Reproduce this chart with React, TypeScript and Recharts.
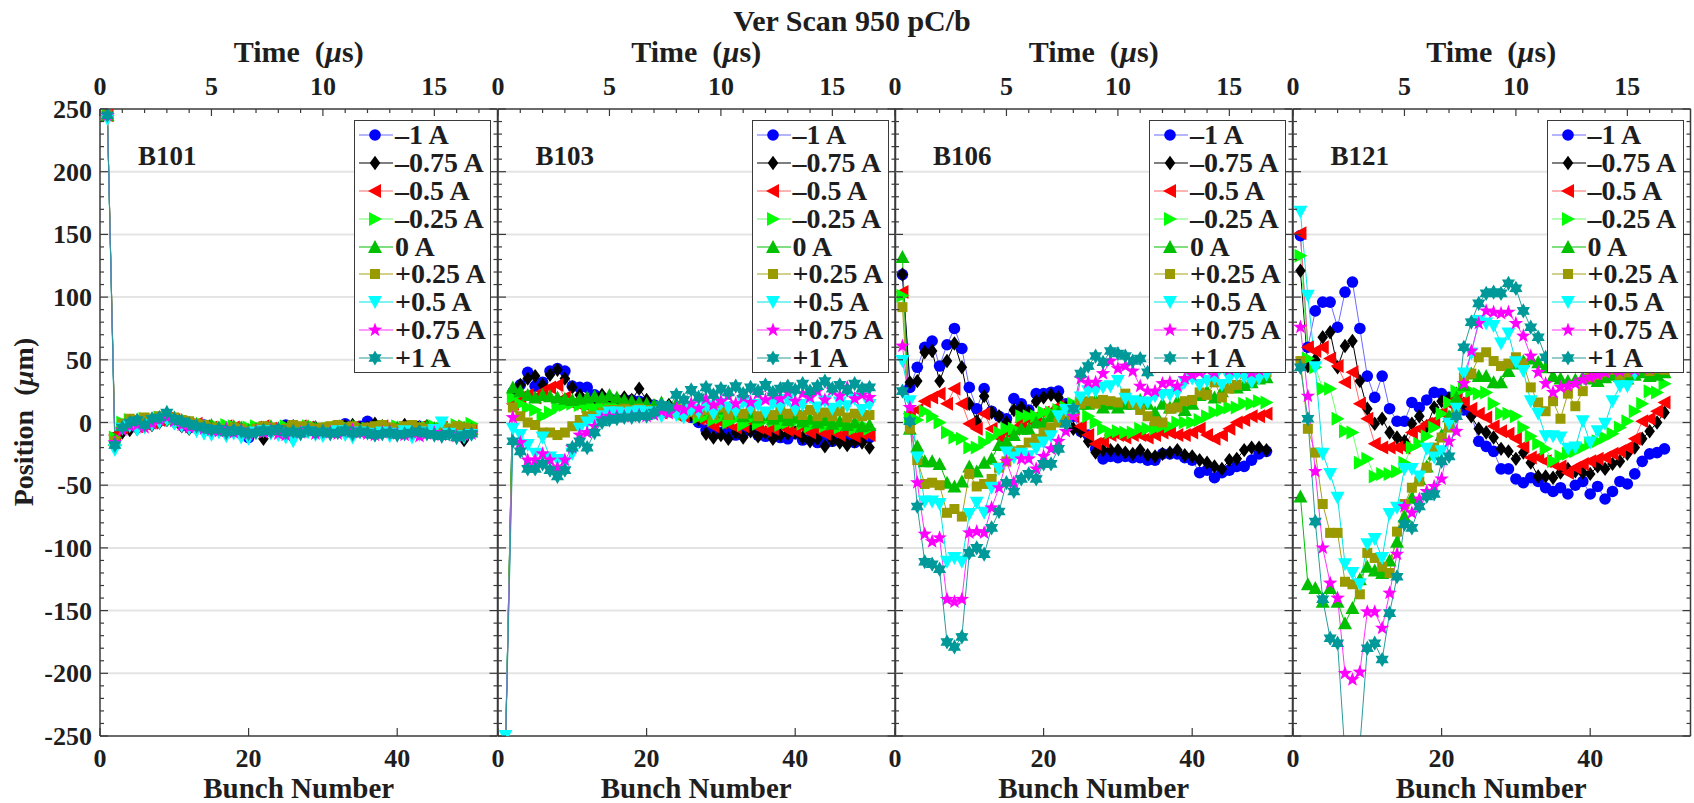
import React from 'react';
import {
  LineChart,
  Line,
  XAxis,
  YAxis,
  CartesianGrid,
  ReferenceLine,
} from 'recharts';

// bunch numbers along the train
const BUNCH = [
  1, 2, 3, 4, 5, 6, 7, 8, 9, 10, 11, 12, 13, 14, 15, 16, 17, 18, 19, 20,
  21, 22, 23, 24, 25, 26, 27, 28, 29, 30, 31, 32, 33, 34, 35, 36, 37, 38, 39, 40,
  41, 42, 43, 44, 45, 46, 47, 48, 49, 50,
];

// B101
const B101_M100 = [245,-12,-2,-1,0,-2,1,2,3,1,-2,-4,-3,-2,-5,-6,-4,-7,-5,-12,-6,-5,-7,-6,-2,-4,-6,-5,-7,-6,-5,-4,-1,-6,-3,1,-5,-6,-5,-7,-4,-5,-3,-3,-5,-7,-6,-8,-7,-6];
const B101_M075 = [245,-14,-8,-6,-5,-3,-2,0,2,0,-3,-5,-4,-6,-7,-5,-8,-6,-9,-10,-7,-13,-5,-7,-4,-3,-6,-5,-4,-6,-7,-5,-3,-2,-5,-4,-1,-3,-6,-5,-2,-6,-4,-3,-5,-6,-8,-5,-14,-9];
const B101_M050 = [245,-10,-4,-2,-3,-1,0,2,3,2,0,-2,-1,-3,-4,-5,-3,-4,-6,-5,-4,-3,-5,-6,-4,-5,-3,-4,-6,-5,-4,-3,-5,-4,-6,-5,-4,-3,-5,-7,-6,-5,-4,-6,-5,-4,-7,-6,-5,-6];
const B101_M025 = [245,-12,0,2,1,3,2,4,5,3,1,0,-1,-2,-3,-4,-2,-3,-5,-4,-3,-5,-4,-6,-3,-4,-5,-3,-4,-6,-5,-4,-3,-5,-4,-5,-6,-4,-5,-3,-4,-6,-5,-4,-3,-5,-4,-2,-3,-1];
const B101_Z0 = [245,-14,-2,1,0,2,3,4,6,4,2,0,-1,-3,-2,-4,-5,-3,-4,-6,-5,-4,-3,-5,-6,-4,-5,-3,-4,-5,-6,-4,-5,-3,-6,-5,-4,-3,-5,-4,-5,-6,-4,-3,-5,-4,-6,-5,-4,-5];
const B101_P025 = [245,-15,-1,3,2,4,3,5,5,4,2,1,-1,-2,-4,-5,-6,-4,-5,-7,-5,-3,-4,-6,-5,-2,-3,-4,-5,-4,-3,-2,-4,-3,-5,-4,-3,-2,-4,-5,-3,-2,-4,-5,-6,-4,-5,-3,-4,-5];
const B101_P050 = [242,-22,-5,-3,-6,-4,-2,0,2,-1,-3,-5,-7,-9,-10,-8,-11,-9,-12,-13,-8,-7,-9,-10,-12,-15,-9,-8,-10,-11,-9,-7,-10,-12,-8,-9,-10,-8,-11,-9,-7,-12,-10,-8,-6,0,-9,-11,-12,-10];
const B101_P075 = [245,-16,-6,-3,-2,-4,-1,2,4,1,-2,-4,-3,-5,-6,-7,-5,-8,-6,-9,-7,-8,-6,-9,-10,-7,-8,-6,-9,-7,-8,-9,-7,-6,-8,-9,-10,-8,-7,-9,-10,-8,-11,-9,-8,-10,-9,-11,-10,-9];
const B101_P100 = [245,-18,-4,0,2,-2,3,4,8,3,1,-1,-3,-4,-6,-5,-8,-6,-7,-9,-8,-6,-7,-5,-8,-7,-9,-6,-8,-7,-9,-8,-6,-9,-7,-8,-10,-9,-8,-10,-9,-8,-7,-9,-10,-11,-9,-12,-10,-9];

// B103
const B103_M100 = [-262,24,30,40,29,32,41,43,41,29,28,28,22,20,19,18,17,18,17,15,14,13,12,11,8,4,0,-6,-4,-8,-7,-10,-9,-6,-10,-11,-8,-12,-13,-9,-14,-13,-16,-12,-15,-13,-14,-16,-13,-12];
const B103_M075 = [-262,25,30,35,37,30,38,42,35,28,22,18,20,22,20,18,20,18,27,18,12,10,14,11,9,6,3,-9,-12,-10,-13,-8,-12,-7,-11,-8,-13,-10,-9,-8,-12,-15,-13,-19,-14,-16,-18,-15,-16,-20];
const B103_M050 = [-262,15,20,22,20,25,28,30,20,15,14,13,12,12,11,11,10,10,10,9,9,8,10,6,5,7,3,2,-3,0,-1,-4,-3,1,-4,-6,-5,-2,-6,-7,-4,-8,-6,-9,-7,-10,-8,-11,-9,-10];
const B103_M025 = [-262,20,15,12,10,5,8,12,14,15,14,13,12,12,13,12,11,12,12,11,10,12,9,10,7,8,4,5,2,4,0,3,-2,3,-1,2,1,-2,0,1,-1,-3,0,-3,-1,-4,-2,-5,-3,-5];
const B103_Z0 = [-262,28,25,22,20,22,21,20,19,18,19,20,21,20,22,20,18,17,16,15,14,16,13,15,12,14,10,12,8,11,7,9,5,8,4,6,3,5,2,4,1,3,0,2,-1,1,-2,0,-3,-2];
const B103_P025 = [-262,12,5,0,-2,-8,-8,-10,-8,-3,2,5,5,8,10,10,11,10,11,10,9,10,8,11,7,9,8,10,6,12,6,9,7,11,5,8,6,10,7,9,6,10,5,8,5,9,4,7,5,6];
const B103_P050 = [-250,-5,-10,-18,-25,-12,-28,-30,-32,-25,-5,0,2,5,8,8,7,8,9,8,8,5,9,6,4,10,8,13,7,15,12,9,16,11,14,8,15,12,18,10,14,20,12,17,11,16,13,19,10,14];
const B103_P075 = [-262,4,-16,-30,-30,-25,-30,-36,-30,-20,-10,-8,-3,3,5,5,5,5,6,5,6,9,7,12,10,15,11,19,14,17,21,15,20,16,23,18,22,19,24,17,23,20,25,18,26,21,28,19,22,20];
const B103_P100 = [-262,-15,-23,-37,-37,-33,-38,-43,-38,-20,-15,-20,-8,0,2,3,4,4,5,5,8,14,12,22,18,26,20,28,22,27,24,29,23,28,25,30,24,27,29,26,31,25,29,33,27,30,26,31,27,28];

// B106
const B106_M100 = [118,28,44,60,65,45,62,75,59,28,11,27,9,5,3,19,15,10,23,23,24,25,15,5,-7,-10,-21,-29,-27,-28,-27,-28,-28,-30,-30,-25,-25,-25,-28,-30,-40,-38,-44,-40,-38,-35,-35,-30,-25,-23];
const B106_M075 = [118,32,33,56,57,33,49,63,44,15,1,21,8,5,0,10,12,8,17,20,22,20,12,-5,-7,-15,-24,-22,-22,-22,-24,-25,-22,-26,-27,-25,-24,-22,-26,-27,-30,-32,-35,-37,-30,-29,-22,-20,-20,-22];
const B106_M050 = [104,7,10,17,20,23,15,27,15,-1,-5,7,-5,-12,-8,-5,0,2,5,8,9,13,10,5,-3,-10,-17,-15,-10,-10,-12,-10,-10,-12,-10,-8,-8,-10,-10,-8,-5,-10,-13,-10,-5,0,2,5,5,7];
const B106_M025 = [101,4,2,9,5,0,-8,-12,-13,-20,-20,-16,-12,-8,-5,-5,5,5,5,8,8,10,12,15,15,5,0,-5,-8,-7,-8,-8,-5,-5,-5,-3,-3,0,0,0,2,5,8,10,12,12,15,15,17,16];
const B106_Z0 = [132,-5,-19,-31,-31,-33,-48,-51,-47,-35,-39,-32,-29,-18,-15,-10,-5,-5,0,0,5,8,10,12,15,15,18,12,15,12,15,15,18,15,8,15,12,17,10,15,22,25,20,25,29,28,30,32,35,36];
const B106_P025 = [92,-5,-30,-49,-48,-50,-72,-69,-75,-41,-51,-49,-45,-36,-31,-23,-22,-16,-13,-8,-4,0,5,8,15,17,15,18,17,16,23,15,10,5,1,0,11,12,17,18,24,22,32,20,27,30,40,35,38,40];
const B106_P050 = [49,17,-28,-63,-63,-65,-111,-108,-111,-73,-64,-72,-52,-37,-24,-28,-25,-27,-21,-16,-11,5,10,8,20,25,25,28,29,33,19,17,16,16,21,22,22,24,32,35,30,33,35,30,35,38,36,32,35,38];
const B106_P075 = [61,12,-48,-89,-95,-92,-141,-143,-141,-88,-87,-88,-68,-52,-31,-48,-29,-29,-37,-27,-21,-15,-7,5,35,32,32,39,49,43,45,41,29,25,25,31,32,29,35,38,40,42,40,44,42,45,43,40,42,44];
const B106_P100 = [25,1,-67,-111,-113,-117,-175,-179,-171,-104,-100,-105,-84,-71,-48,-55,-45,-41,-45,-33,-33,-21,-1,11,39,45,53,48,57,55,53,49,51,40,45,48,50,47,52,50,48,52,50,53,50,48,52,50,49,51];

// B121
const B121_M100 = [149,60,89,96,96,76,104,112,75,37,20,37,11,1,1,16,12,18,24,23,20,15,10,7,-15,-19,-23,-37,-37,-45,-48,-44,-47,-52,-55,-52,-57,-50,-47,-57,-51,-61,-55,-47,-49,-41,-31,-25,-24,-21];
const B121_M075 = [121,45,50,68,72,44,61,65,33,11,-1,3,-8,-12,-15,-1,5,-3,12,17,19,23,15,5,-5,-8,-12,-21,-23,-29,-24,-32,-43,-43,-44,-40,-37,-39,-40,-41,-35,-37,-33,-31,-25,-20,-13,-7,0,8];
const B121_M050 = [151,60,57,60,51,45,32,40,15,3,-17,-20,-20,-20,-20,-8,-5,-1,1,8,15,19,17,11,7,4,-3,-7,-9,-13,-19,-28,-28,-31,-33,-35,-40,-36,-33,-31,-29,-28,-25,-23,-20,-13,1,3,9,16];
const B121_M025 = [133,51,44,27,27,3,-7,-8,-32,-29,-43,-41,-41,-39,-32,-20,-17,-11,-4,7,16,25,27,25,23,24,15,7,7,5,-4,-11,-17,-21,-31,-27,-25,-23,-20,-17,-15,-12,-9,-4,1,9,15,25,24,31];
const B121_Z0 = [-59,-129,-132,-143,-132,-143,-160,-148,-125,-115,-118,-120,-110,-95,-75,-60,-45,-35,-25,-10,5,20,30,39,37,37,32,32,41,47,49,51,48,44,37,35,33,34,36,35,33,36,38,37,35,38,40,37,38,40];
const B121_P025 = [49,-5,-24,-65,-88,-88,-127,-129,-137,-104,-108,-115,-120,-87,-65,-52,-47,-36,-20,-12,-4,7,36,39,52,56,49,45,47,52,47,28,16,9,17,3,23,13,25,36,38,40,42,38,40,42,44,41,43,42];
const B121_P050 = [168,101,44,-25,-41,-60,-113,-120,-129,-97,-93,-108,-73,-68,-37,-37,-43,-21,-28,-23,-1,11,39,55,81,79,77,63,71,48,41,17,7,-11,-11,-12,-21,-20,1,-16,-7,-1,17,29,29,39,45,48,50,50];
const B121_P075 = [76,21,-39,-100,-128,-140,-200,-205,-199,-151,-151,-164,-136,-105,-67,-72,-61,-55,-51,-45,-15,-7,31,57,79,89,88,87,88,79,69,53,40,31,24,28,29,31,34,36,38,40,42,41,43,42,44,43,45,44];
const B121_P100 = [44,3,-79,-141,-172,-176,-265,-330,-258,-180,-176,-189,-152,-123,-81,-84,-67,-59,-57,-31,-27,5,60,80,95,103,104,103,111,107,89,76,68,52,50,48,46,47,45,48,46,50,48,47,50,48,52,50,49,51];

const SERIES_KEYS = ['m100', 'm075', 'm050', 'm025', 'z0', 'p025', 'p050', 'p075', 'p100'];
const SERIES_LABELS = ['–1 A', '–0.75 A', '–0.5 A', '–0.25 A', '0 A', '+0.25 A', '+0.5 A', '+0.75 A', '+1 A'];
const MARKER_COLORS = ['#0000ff', '#000000', '#ff0000', '#00ff00', '#00c000', '#999900', '#00ffff', '#ff00ff', '#009999'];
const LINE_COLORS = ['#6b6bff', '#000000', '#ff6b6b', '#6bff6b', '#00c000', '#a3a31a', '#00e6e6', '#ff33ff', '#2a9b9b'];
const MARKER_SHAPES = ['circle', 'diamond', 'triLeft', 'triRight', 'triUp', 'square', 'triDown', 'star', 'hexagram'];

const PANEL_NAMES = ['B101', 'B103', 'B106', 'B121'];
const PANEL_SERIES = [
  [B101_M100, B101_M075, B101_M050, B101_M025, B101_Z0, B101_P025, B101_P050, B101_P075, B101_P100],
  [B103_M100, B103_M075, B103_M050, B103_M025, B103_Z0, B103_P025, B103_P050, B103_P075, B103_P100],
  [B106_M100, B106_M075, B106_M050, B106_M025, B106_Z0, B106_P025, B106_P050, B106_P075, B106_P100],
  [B121_M100, B121_M075, B121_M050, B121_M025, B121_Z0, B121_P025, B121_P050, B121_P075, B121_P100],
];

const GRID_Y = [-200, -150, -100, -50, 0, 50, 100, 150, 200];
const BOTTOM_TICKS = [0, 20, 40];
const TIME_LABELS = [0, 5, 10, 15];

// layout
const XMAX = 53.5;
const BUNCHES_PER_US = 3;
const PANEL_W = 397.5;
const PLOT_TOP = 109;
const PLOT_BOTTOM = 736;
const Y_AXIS_W = 100;
const H = 803;
const AXIS = '#3a3a3a';
const TEXT = '#1e1e1e';
const FONT = "'Liberation Serif', 'Times New Roman', serif";
const TICK_FS = 26;

const panelLeft = (i: number) => 100 + i * PANEL_W;

const Y_TICKS: number[] = [];
for (let v = -250; v <= 250; v += 10) Y_TICKS.push(v);
const TOP_TICKS: number[] = [];
for (let t = 0; t * BUNCHES_PER_US <= XMAX; t++) TOP_TICKS.push(t * BUNCHES_PER_US);

const starPoints = (cx: number, cy: number, n: number, ro: number, ri: number) => {
  const pts: string[] = [];
  for (let k = 0; k < 2 * n; k++) {
    const r = k % 2 ? ri : ro;
    const a = -Math.PI / 2 + (k * Math.PI) / n;
    pts.push(`${cx + r * Math.cos(a)},${cy + r * Math.sin(a)}`);
  }
  return pts.join(' ');
};

const Marker = ({ shape, cx, cy, color }: { shape: string; cx: number; cy: number; color: string }) => {
  switch (shape) {
    case 'circle':
      return <circle cx={cx} cy={cy} r={5.8} fill={color} />;
    case 'diamond':
      return <polygon points={`${cx},${cy - 7.2} ${cx + 5.3},${cy} ${cx},${cy + 7.2} ${cx - 5.3},${cy}`} fill={color} />;
    case 'triLeft':
      return <polygon points={`${cx - 7},${cy} ${cx + 6},${cy - 7} ${cx + 6},${cy + 7}`} fill={color} />;
    case 'triRight':
      return <polygon points={`${cx + 7},${cy} ${cx - 6},${cy - 7} ${cx - 6},${cy + 7}`} fill={color} />;
    case 'triUp':
      return <polygon points={`${cx},${cy - 7} ${cx + 7},${cy + 6} ${cx - 7},${cy + 6}`} fill={color} />;
    case 'triDown':
      return <polygon points={`${cx},${cy + 7} ${cx + 7},${cy - 6} ${cx - 7},${cy - 6}`} fill={color} />;
    case 'square':
      return <rect x={cx - 5} y={cy - 5} width={10} height={10} fill={color} />;
    case 'star':
      return <polygon points={starPoints(cx, cy, 5, 7.6, 3.1)} fill={color} />;
    default:
      return <polygon points={starPoints(cx, cy, 6, 7.6, 4.4)} fill={color} />;
  }
};

const renderDot = (shape: string, color: string) => (props: any) => {
  const { cx, cy, index } = props;
  if (cx == null || cy == null) return <g key={`d${index}`} />;
  return (
    <g key={`d${index}`}>
      <Marker shape={shape} cx={cx} cy={cy} color={color} />
    </g>
  );
};

const YTick = (props: any, showLabel: boolean) => {
  const v = props.payload.value;
  const y = props.y;
  const major = v % 50 === 0;
  const len = major ? 8 : 4;
  const left = Y_AXIS_W;
  const right = Y_AXIS_W + PANEL_W;
  return (
    <g>
      <line x1={left} x2={left + len} y1={y} y2={y} stroke={AXIS} strokeWidth={1.2} />
      <line x1={right - len} x2={right} y1={y} y2={y} stroke={AXIS} strokeWidth={1.2} />
      {showLabel && major && (
        <text x={92} y={y + 9} textAnchor="end" fontSize={TICK_FS} fontWeight="bold" fontFamily={FONT} fill={TEXT}>
          {v}
        </text>
      )}
    </g>
  );
};

const BottomTick = (props: any) => {
  const v = props.payload.value;
  const x = props.x;
  return (
    <g>
      <line x1={x} x2={x} y1={PLOT_BOTTOM} y2={PLOT_BOTTOM - 8} stroke={AXIS} strokeWidth={1.2} />
      <text x={x} y={767} textAnchor="middle" fontSize={TICK_FS} fontWeight="bold" fontFamily={FONT} fill={TEXT}>
        {v}
      </text>
    </g>
  );
};

const TopTick = (props: any) => {
  const v = props.payload.value;
  const x = props.x;
  const t = v / BUNCHES_PER_US;
  const major = TIME_LABELS.includes(t);
  return (
    <g>
      <line x1={x} x2={x} y1={PLOT_TOP} y2={PLOT_TOP + (major ? 7 : 4)} stroke={AXIS} strokeWidth={1.2} />
      {major && (
        <text x={x} y={95} textAnchor="middle" fontSize={TICK_FS} fontWeight="bold" fontFamily={FONT} fill={TEXT}>
          {t}
        </text>
      )}
    </g>
  );
};

const Panel = ({ index }: { index: number }) => {
  const series = PANEL_SERIES[index];
  const rows = BUNCH.map((x, i) => {
    const row: Record<string, number> = { x };
    SERIES_KEYS.forEach((k, s) => {
      row[k] = series[s][i];
    });
    return row;
  });

  return (
    <div style={{ position: 'absolute', left: panelLeft(index) - Y_AXIS_W, top: 0 }}>
      <LineChart
        width={Y_AXIS_W + PANEL_W + 4}
        height={H}
        data={rows}
        margin={{ top: PLOT_TOP - 30, right: 4, bottom: H - PLOT_BOTTOM - 30, left: 0 }}
      >
        <CartesianGrid vertical={false} horizontalValues={GRID_Y} stroke="#e4e4e4" strokeWidth={2} />
        <XAxis
          dataKey="x"
          type="number"
          domain={[0, XMAX]}
          allowDataOverflow
          ticks={BOTTOM_TICKS}
          interval={0}
          height={30}
          tickLine={false}
          axisLine={{ stroke: AXIS, strokeWidth: 1.5 }}
          tick={BottomTick}
        />
        <XAxis
          xAxisId="top"
          orientation="top"
          dataKey="x"
          type="number"
          domain={[0, XMAX]}
          allowDataOverflow
          ticks={TOP_TICKS}
          interval={0}
          height={30}
          tickLine={false}
          axisLine={{ stroke: AXIS, strokeWidth: 1.5 }}
          tick={TopTick}
        />
        <YAxis
          type="number"
          domain={[-250, 250]}
          allowDataOverflow
          ticks={Y_TICKS}
          interval={0}
          width={Y_AXIS_W}
          tickLine={false}
          axisLine={{ stroke: AXIS, strokeWidth: 1.5 }}
          tick={(p: any) => YTick(p, index === 0)}
        />
        <ReferenceLine x={XMAX} stroke={AXIS} strokeWidth={1.5} />
        {SERIES_KEYS.map((k, s) => (
          <Line
            key={k}
            dataKey={k}
            stroke={LINE_COLORS[s]}
            strokeWidth={1}
            dot={renderDot(MARKER_SHAPES[s], MARKER_COLORS[s])}
            activeDot={false}
            isAnimationActive={false}
          />
        ))}
      </LineChart>
    </div>
  );
};

const LegendBox = ({ index }: { index: number }) => (
  <div
    style={{
      position: 'absolute',
      left: panelLeft(index) + 254,
      top: 120,
      width: 137,
      height: 253,
      boxSizing: 'border-box',
      border: `1.5px solid ${AXIS}`,
      background: '#fff',
    }}
  >
    {SERIES_LABELS.map((label, s) => (
      <div key={label} style={{ display: 'flex', alignItems: 'center', height: 27.9 }}>
        <svg width={40} height={28} style={{ flex: 'none' }}>
          <line x1={4} x2={38} y1={14} y2={14} stroke={LINE_COLORS[s]} strokeWidth={1.2} />
          <Marker shape={MARKER_SHAPES[s]} cx={20} cy={14} color={MARKER_COLORS[s]} />
        </svg>
        <span
          style={{
            fontFamily: FONT,
            fontWeight: 'bold',
            fontSize: 28,
            lineHeight: '28px',
            color: TEXT,
            whiteSpace: 'nowrap',
          }}
        >
          {label}
        </span>
      </div>
    ))}
  </div>
);

export default function App() {
  return (
    <div
      style={{
        position: 'absolute',
        left: 0,
        top: 0,
        width: 1694,
        height: H,
        background: '#fff',
        overflow: 'hidden',
      }}
    >
      {PANEL_NAMES.map((_, i) => (
        <Panel key={i} index={i} />
      ))}
      <svg
        width={1694}
        height={H}
        style={{ position: 'absolute', left: 0, top: 0, pointerEvents: 'none' }}
        fontFamily={FONT}
        fontWeight="bold"
        fill={TEXT}
      >
        <text x={852} y={31} textAnchor="middle" fontSize={30}>
          Ver Scan 950 pC/b
        </text>
        {PANEL_NAMES.map((name, i) => (
          <g key={name}>
            <text x={panelLeft(i) + PANEL_W / 2} y={62} textAnchor="middle" fontSize={30}>
              {'Time\u2002('}
              <tspan fontStyle="italic">µ</tspan>
              {'s)'}
            </text>
            <text x={panelLeft(i) + PANEL_W / 2} y={798} textAnchor="middle" fontSize={29}>
              Bunch Number
            </text>
            <text x={panelLeft(i) + 38} y={165} fontSize={27}>
              {name}
            </text>
          </g>
        ))}
        <text transform="translate(33, 422) rotate(-90)" textAnchor="middle" fontSize={28}>
          {'Position\u2002('}
          <tspan fontStyle="italic">µ</tspan>
          {'m)'}
        </text>
      </svg>
      {PANEL_NAMES.map((_, i) => (
        <LegendBox key={i} index={i} />
      ))}
    </div>
  );
}
